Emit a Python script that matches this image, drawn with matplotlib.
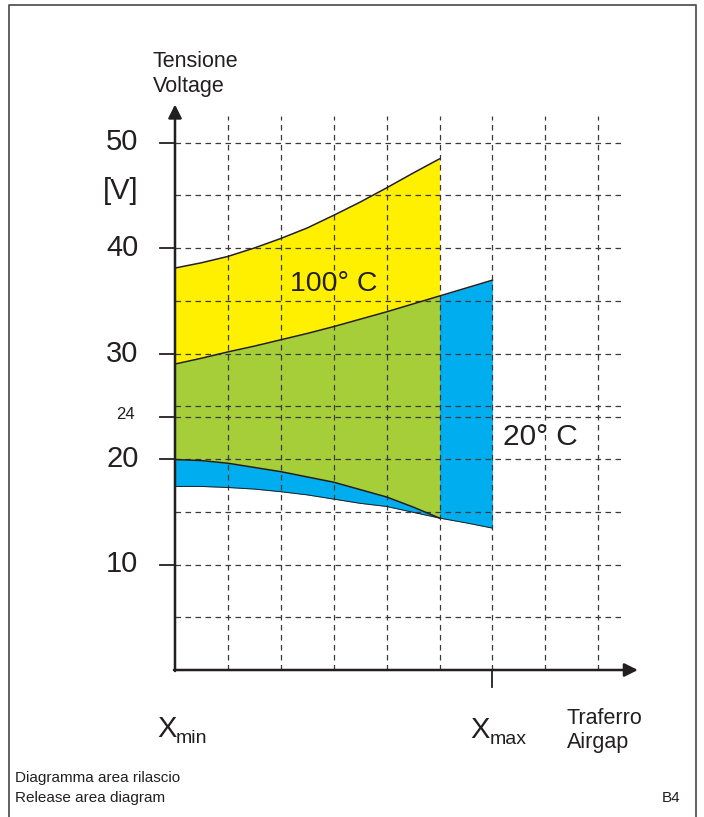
import matplotlib
matplotlib.use("Agg")
import matplotlib.pyplot as plt
from matplotlib.lines import Line2D

plt.rcParams['font.family'] = ['Liberation Sans', 'DejaVu Sans']
plt.rcParams['lines.scale_dashes'] = False

# airgap steps (half grid units from Xmin) and voltages
gap = [0, 0.5, 1, 1.5, 2, 2.5, 3, 3.5, 4, 4.5, 5, 5.5, 6]
hot_top = [38.1, 38.6, 39.2, 40.0, 40.9, 41.9, 43.1, 44.35, 45.7, 47.1, 48.45]   # 100 C upper
mid_line = [29.0, 29.55, 30.15, 30.7, 31.3, 31.9, 32.55, 33.25, 33.95, 34.7,
            35.45, 36.2, 36.95]                                                  # shared limit
hot_low = [19.95, 19.85, 19.6, 19.2, 18.8, 18.3, 17.8, 17.1, 16.4, 15.45, 14.4]   # 100 C lower
cold_low = [17.4, 17.4, 17.3, 17.15, 16.9, 16.6, 16.2, 15.8, 15.5, 14.95,
            14.4, 13.95, 13.45]                                                  # 20 C lower

ytick_vals = [10, 20, 30, 40, 50]
ytick_labels = ['10', '20', '30', '40', '50']
grid_y = [5, 10, 15, 20, 24, 25, 30, 35, 40, 45, 50]
grid_x = [1, 2, 3, 4, 5, 6, 7, 8]

YELLOW = '#fff000'
GREEN = '#a6ce39'
BLUE = '#00aeef'
INK = '#231f20'
GRID = '#3a3a3a'

W, H = 704, 817
X0, Y0 = 175, 670          # pixel of origin
SX, SY = 52.9, 10.55        # pixels per unit

fig = plt.figure(figsize=(W / 100, H / 100), dpi=100)
ax = fig.add_axes([0, 0, 1, 1])
ax.set_xlim(-X0 / SX, (W - X0) / SX)
ax.set_ylim(-(H - Y0) / SY, Y0 / SY)
ax.axis('off')

# filled areas
n5 = len(hot_top)
ax.fill_between(gap, cold_low, mid_line, color=BLUE, lw=0, zorder=1)
ax.fill_between(gap[:n5], hot_low, mid_line[:n5], color=GREEN, lw=0, zorder=2)
ax.fill_between(gap[:n5], mid_line[:n5], hot_top, color=YELLOW, lw=0, zorder=2)

# outlines
ax.plot(gap[:n5], hot_top, color=INK, lw=1.1, zorder=4)
ax.plot(gap, mid_line, color=INK, lw=1.1, zorder=4)
ax.plot(gap[:n5], hot_low, color=INK, lw=1.1, zorder=4)
ax.plot(gap, cold_low, color=INK, lw=0.7, zorder=4)

# dashed grid
dash = (0, (4.0, 3.2))
for gx in grid_x:
    ax.plot([gx, gx], [0, 52.5], color=GRID, lw=0.9, ls=dash, zorder=3)
for gy in grid_y:
    ax.plot([0, 8.5], [gy, gy], color=GRID, lw=0.9, ls=dash, zorder=3)

# axes with arrows
ax.annotate('', xy=(0, 53.6), xytext=(0, -0.1),
            arrowprops=dict(arrowstyle='-|>', lw=1.8, color=INK,
                            mutation_scale=20, shrinkA=0, shrinkB=0), zorder=5)
ax.annotate('', xy=(8.75, 0), xytext=(-0.02, 0),
            arrowprops=dict(arrowstyle='-|>', lw=1.8, color=INK,
                            mutation_scale=20, shrinkA=0, shrinkB=0), zorder=5)

# ticks
for v in ytick_vals + [24]:
    ax.plot([-0.29, 0], [v, v], color=INK, lw=1.3, zorder=5)
ax.plot([6, 6], [0, -1.6], color=INK, lw=1.3, zorder=5)

# tick labels
for v, lab in zip(ytick_vals, ytick_labels):
    ax.text(-0.69, v, lab, fontsize=21, ha='right', va='center', color=INK)
ax.text(-0.69, 45.4, '[V]', fontsize=21, ha='right', va='center', color=INK)
ax.text(-0.76, 24.2, '24', fontsize=12, ha='right', va='center', color=INK)

# axis titles
ax.text(-0.42, 57.15, 'Tensione', fontsize=15.5, ha='left', va='baseline', color=INK)
ax.text(-0.42, 54.8, 'Voltage', fontsize=15.5, ha='left', va='baseline', color=INK)
ax.text(7.41, -5.1, 'Traferro', fontsize=15.5, ha='left', va='baseline', color=INK)
ax.text(7.41, -7.4, 'Airgap', fontsize=15.5, ha='left', va='baseline', color=INK)

ax.text(-0.34, -6.35, 'X', fontsize=21, ha='left', va='baseline', color=INK)
ax.text(0.02, -6.95, 'min', fontsize=14, ha='left', va='baseline', color=INK)
ax.text(5.58, -6.45, 'X', fontsize=21, ha='left', va='baseline', color=INK)
ax.text(5.95, -7.05, 'max', fontsize=14, ha='left', va='baseline', color=INK)

# region labels
ax.text(2.17, 35.9, '100° C', fontsize=20.5, ha='left', va='baseline', color=INK, zorder=6)
ax.text(6.2, 21.3, '20° C', fontsize=21.5, ha='left', va='baseline', color=INK, zorder=6)

# captions
ax.text(-3.02, -10.6, 'Diagramma area rilascio', fontsize=11, ha='left', va='baseline', color=INK)
ax.text(-3.02, -12.5, 'Release area diagram', fontsize=11, ha='left', va='baseline', color=INK)
ax.text(9.56, -12.5, 'B4', fontsize=11, ha='right', va='baseline', color=INK)

# page frame (open at the bottom)
fx = [9 / W, 9 / W, 696 / W, 696 / W]
fy = [0, 1 - 5 / H, 1 - 5 / H, 0]
fig.add_artist(Line2D(fx, fy, transform=fig.transFigure, color='#555555', lw=1.3))

fig.savefig('out.png', dpi=100)
